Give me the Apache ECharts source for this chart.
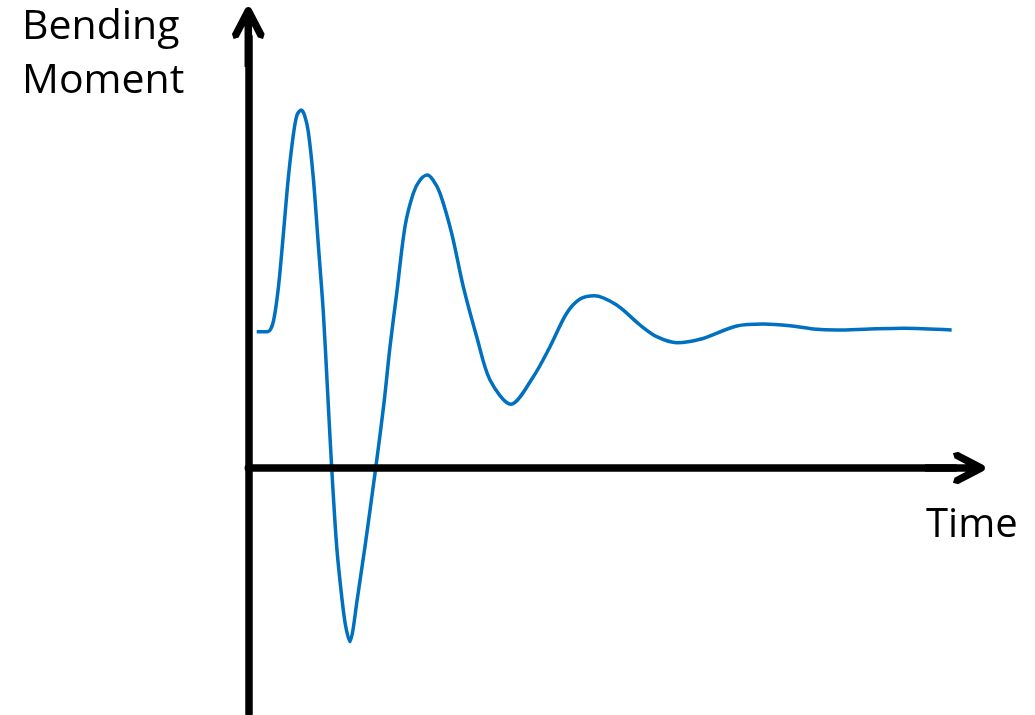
<!DOCTYPE html>
<html>
<head>
<meta charset="utf-8">
<script src="https://cdn.jsdelivr.net/npm/echarts@6/dist/echarts.min.js"></script>
<style>
  html, body { margin: 0; padding: 0; background: #ffffff; }
  #chart { width: 1035px; height: 715px; }
</style>
</head>
<body>
<div id="chart"></div>
<script>
// Time (arbitrary units) and bending moment (arbitrary units)
const timeValues = [0.119, 0.194, 0.283, 0.354, 0.425, 0.495, 0.566, 0.637, 0.689, 0.746,
  0.795, 0.849, 0.920, 0.991, 1.061, 1.121, 1.180, 1.251, 1.322, 1.375,
  1.439, 1.481, 1.534, 1.651, 1.803, 1.920, 2.005, 2.100, 2.217, 2.335,
  2.430, 2.533, 2.614, 2.713, 2.878, 3.042, 3.232, 3.420, 3.717,
  4.033, 4.269, 4.505, 4.694, 4.896, 5.213, 5.543, 5.779, 6.066,
  6.392, 6.911, 7.287, 7.665, 7.995, 8.326, 8.797, 9.268, 9.953];
const momentValues = [1.363, 1.363, 1.365, 1.463, 1.80, 2.33, 2.90, 3.33, 3.53, 3.58,
  3.53, 3.363, 2.90, 2.23, 1.563, 0.78, 0, -0.787, -1.287, -1.57,
  -1.737, -1.62, -1.35, -0.787, 0, 0.65, 1.213, 1.747, 2.413, 2.747,
  2.88, 2.93, 2.88, 2.747, 2.347, 1.813, 1.313, 0.88, 0.637,
  0.913, 1.213, 1.547, 1.69, 1.723, 1.63, 1.43, 1.313, 1.253,
  1.287, 1.42, 1.44, 1.423, 1.39, 1.38, 1.39, 1.397, 1.38];
const yAxisTitle = ['Bending', 'Moment'];
const xAxisTitle = 'Time';

const seriesData = timeValues.map((t, i) => [t, momentValues[i]]);

const arrowPath = 'path://M6.66 30.48 L12.58 19.1 L12.58 60 L20.08 60 L20.08 19.1 L26 30.48 L31.06 32.08 L32.66 27.02 L19.66 2.02 L18.33 0.55 L16.33 0 L14.33 0.55 L13 2.02 L0 27.02 L1.6 32.08 Z';

const chart = echarts.init(document.getElementById('chart'), null, { renderer: 'canvas' });
const FONT = '"Open Sans", "Noto Sans", sans-serif';

chart.setOption({
  animation: false,
  backgroundColor: '#ffffff',
  grid: { left: 248.3, right: 80, top: 37, bottom: 1.7, containLabel: false },
  xAxis: {
    type: 'value', min: 0, max: 10, z: 5,
    axisLine: { show: true, onZero: true, lineStyle: { color: '#000000', width: 7.5 },
      symbol: ['none', arrowPath], symbolSize: [32.66, 60] },
    axisTick: { show: false }, axisLabel: { show: false }, splitLine: { show: false }
  },
  yAxis: {
    type: 'value', min: -2.453, max: 4.31, z: 5,
    axisLine: { show: true, onZero: false, lineStyle: { color: '#000000', width: 7.5 },
      symbol: ['none', arrowPath], symbolSize: [32.66, 60] },
    axisTick: { show: false }, axisLabel: { show: false }, splitLine: { show: false }
  },
  series: [{
    type: 'line',
    data: seriesData,
    smooth: 0.3,
    showSymbol: false,
    lineStyle: { color: '#0070C0', width: 3.5 },
    z: 2
  }],
  graphic: [
    { type: 'text', left: 22, top: 0, z: 10,
      style: { text: yAxisTitle.join('\n'), font: '41px ' + FONT, fill: '#000000', lineHeight: 54 } },
    { type: 'text', left: 926, top: 506, z: 10,
      style: { text: xAxisTitle, font: '40px ' + FONT, fill: '#000000' } }
  ]
});
</script>
</body>
</html>
